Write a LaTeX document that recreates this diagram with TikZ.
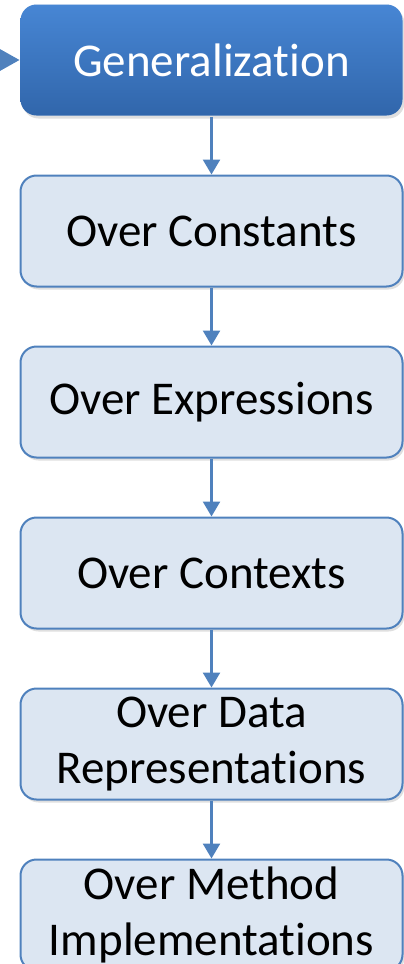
\documentclass[tikz,border=0pt]{standalone}
\usepackage{fontspec}
\setmainfont{Carlito}
\usetikzlibrary{positioning,shadows,arrows.meta}
\definecolor{stepline}{HTML}{4F81BD}
\definecolor{stepfill}{HTML}{DCE6F2}
\definecolor{gentop}{HTML}{4786D4}
\definecolor{genbottom}{HTML}{3166AB}
% t and i without the Carlito ligature
\newcommand\nolig{\kern0pt }
\begin{document}
\begin{tikzpicture}[x=1pt,y=-1pt]
            \tikzset{
                stepbox/.style={draw=stepline,line width=2pt,fill=stepfill,rounded corners=16pt,
                    minimum width=382pt,minimum height=111pt,align=center,inner sep=0pt,
                    font=\fontsize{47}{56}\selectfont,
                    drop shadow={opacity=.25,shadow xshift=2pt,shadow yshift=-3pt}},
                topbox/.style={stepbox,draw=none,top color=gentop,bottom color=genbottom,text=white},
                flow/.style={stepline,line width=2.5pt,-{Triangle[length=15pt,width=17pt]}},}
            \useasboundingbox (0,0) rectangle (404,964);
            \node[topbox] (gen) at (211.5,60) {Generalizat\nolig ion};
            \node[stepbox,below=58pt of gen] (const) {Over Constants};
            \node[stepbox,below=58pt of const] (expr) {Over Expressions};
            \node[stepbox,below=58pt of expr] (ctx) {Over Contexts};
            \node[stepbox,below=58pt of ctx] (data) {Over Data\\Representat\nolig ions};
            \node[stepbox,below=58pt of data] (meth) {Over Method\\Implementat\nolig ions};
            % incoming arrow from outside the picture
            \coordinate (in) at (-60,60);
            \draw[flow,-{Triangle[length=30pt,width=33pt]}] (in) -- (gen.west);
            \foreach \a/\b in {gen/const,const/expr,expr/ctx,ctx/data,data/meth}
                \draw[flow] (\a) -- (\b);
        \end{tikzpicture}
\end{document}
